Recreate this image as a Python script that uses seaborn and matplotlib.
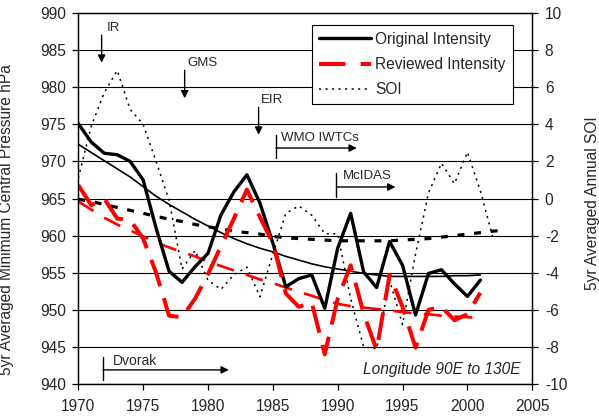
import numpy as np
import pandas as pd
import matplotlib
matplotlib.use('Agg')
import matplotlib.pyplot as plt
import seaborn as sns
from matplotlib.lines import Line2D

# Data
years = list(range(1970, 2002))
original = [975.1, 972.6, 971.1, 970.9, 970.0, 967.5, 961.0, 955.2, 953.7, 955.8,
            957.6, 962.8, 965.9, 968.2, 964.4, 959.0, 953.1, 954.2, 954.7, 950.2,
            958.3, 963.0, 955.1, 953.0, 959.2, 956.0, 949.3, 954.9, 955.4, 953.5,
            951.8, 954.0]
original_trend = [972.3, 971.2, 970.1, 969.0, 967.9, 966.6, 965.3, 964.2, 963.2, 962.2,
                  961.3, 960.4, 959.6, 958.9, 958.3, 957.8, 957.2, 956.7, 956.2, 955.8,
                  955.5, 955.2, 954.9, 954.7, 954.5, 954.5, 954.5, 954.5, 954.5, 954.6,
                  954.6, 954.7]
reviewed = [966.8, 964.1, 965.0, 962.3, 962.1, 959.6, 955.0, 949.2, 949.0, 951.5,
            954.8, 958.6, 962.3, 966.2, 962.5, 959.0, 952.2, 950.4, 951.0, 944.0,
            951.5, 956.0, 949.5, 944.6, 954.7, 950.4, 944.9, 950.0, 950.4, 948.6,
            949.4, 952.3]
reviewed_trend = [964.6, 963.5, 962.4, 961.5, 960.7, 959.9, 959.1, 958.4, 957.8, 957.2,
                  956.5, 955.9, 955.3, 954.7, 954.1, 953.6, 953.0, 952.4, 951.9, 951.3,
                  950.8, 950.5, 950.3, 950.1, 949.9, 949.7, 949.5, 949.4, 949.2, 949.1,
                  949.0, 948.9]

soi_years = list(range(1970, 2003))
soi = [1.1, 3.9, 5.7, 6.9, 4.8, 4.0, 2.0, -0.1, -3.8, -2.8,
       -4.4, -4.9, -4.1, -3.7, -5.3, -3.0, -0.8, -0.4, -0.9, -1.9,
       -1.9, -5.4, -8.0, -8.1, -4.4, -6.8, -3.0, 0.3, 1.9, 0.8,
       2.5, 0.4, -2.2]
soi_trend_years = list(range(1970, 2004))
soi_trend = [-0.04, -0.16, -0.32, -0.48, -0.64, -0.80, -0.96, -1.12, -1.24, -1.40,
             -1.52, -1.64, -1.76, -1.84, -1.92, -2.04, -2.12, -2.16, -2.20, -2.24,
             -2.28, -2.28, -2.28, -2.28, -2.28, -2.24, -2.20, -2.16, -2.08, -2.00,
             -1.92, -1.84, -1.76, -1.68]

df = pd.DataFrame({'Year': years, 'Original': original, 'OrigTrend': original_trend,
                   'Reviewed': reviewed, 'RevTrend': reviewed_trend})
soi_df = pd.DataFrame({'Year': soi_years, 'SOI': soi})
soi_tr_df = pd.DataFrame({'Year': soi_trend_years, 'SOITrend': soi_trend})

sns.set_theme(style='white')
plt.rcParams['font.family'] = ['Liberation Sans', 'DejaVu Sans']
plt.rcParams['axes.unicode_minus'] = False
plt.rcParams['lines.scale_dashes'] = False
FS = 11.2

fig = plt.figure(figsize=(5.99, 4.19), dpi=100)
ax = fig.add_axes([0.1307, 0.0835, 0.7579, 0.8855])
ax2 = ax.twinx()

# gridlines
for v in range(940, 995, 5):
    ax.axhline(v, color='black', lw=0.8, zorder=0)

# SOI (right axis)
sns.lineplot(data=soi_df, x='Year', y='SOI', ax=ax2, color='black', lw=1.1,
             dashes=False, linestyle=(0, (1.5, 3.2)))
sns.lineplot(data=soi_tr_df, x='Year', y='SOITrend', ax=ax2, color='black', lw=2.3,
             dashes=False, linestyle=(0, (5, 7)))

# pressure series (drawn on top axes, in pressure coordinates)
sns.lineplot(data=df, x='Year', y='OrigTrend', ax=ax2, color='black', lw=1.2,
             transform=ax.transData)
sns.lineplot(data=df, x='Year', y='RevTrend', ax=ax2, color='red', lw=1.9,
             linestyle=(0, (13, 9)), transform=ax.transData)
sns.lineplot(data=df, x='Year', y='Original', ax=ax2, color='black', lw=2.4,
             transform=ax.transData)
sns.lineplot(data=df, x='Year', y='Reviewed', ax=ax2, color='red', lw=2.9,
             linestyle=(0, (20, 9)), transform=ax.transData)

ax.set_xlim(1970, 2005)
ax.set_ylim(940, 990)
ax2.set_ylim(-10, 10)
ax.set_xticks(range(1970, 2006, 5))
ax.set_yticks(range(940, 991, 5))
ax2.set_yticks(range(-10, 11, 2))

for a in (ax, ax2):
    for s in a.spines.values():
        s.set_color('black')
        s.set_linewidth(0.9)
    a.tick_params(direction='out', length=4, width=0.9, color='black',
                  labelsize=FS, pad=5)
ax.tick_params(left=True, bottom=True)
ax.tick_params(axis='x', pad=7)
ax2.tick_params(right=True)

ax.set_xlabel('')
ax2.set_xlabel('')
ax.set_ylabel('5yr Averaged Minimum Central Pressure hPa', fontsize=FS)
ax2.set_ylabel('5yr Averaged Annual SOI', fontsize=FS)
ax.yaxis.set_label_coords(-0.142, 0.442)
ax2.yaxis.set_label_coords(1.117, 0.487)

# annotations
arrow = dict(arrowstyle='-|>', color='black', lw=1, mutation_scale=11,
             shrinkA=0, shrinkB=0)
AFS = 9.5
for x, y0, y1, lab, tx, ty in [(1971.8, 987.0, 983.3, 'IR', 1972.2, 988.0),
                               (1978.2, 982.3, 978.5, 'GMS', 1978.4, 983.3),
                               (1983.9, 977.3, 973.6, 'EIR', 1984.1, 978.3)]:
    ax.annotate('', xy=(x, y1), xytext=(x, y0), arrowprops=arrow)
    ax.text(tx, ty, lab, fontsize=AFS, ha='left', va='center')

for x0, x1, yb0, yb1, ya, lab, tx, ty, fs in [
        (1985.24, 1991.47, 970.5, 973.6, 971.8, 'WMO IWTCs', 1985.6, 973.1, AFS),
        (1989.9, 1994.45, 965.2, 968.4, 966.55, 'McIDAS', 1990.4, 968.0, AFS),
        (1971.9, 1981.6, 940.5, 943.6, 941.9, 'Dvorak', 1972.65, 943.1, 10)]:
    ax.plot([x0, x0], [yb0, yb1], color='black', lw=1)
    ax.annotate('', xy=(x1, ya), xytext=(x0, ya), arrowprops=arrow)
    ax.text(tx, ty, lab, fontsize=fs, ha='left', va='center')

ax.text(2004.1, 941.9, 'Longitude 90E to 130E', fontsize=FS, style='italic',
        ha='right', va='center')

handles = [Line2D([0], [0], color='black', lw=2.4),
           Line2D([0], [0], color='red', lw=2.9, linestyle=(0, (19, 11))),
           Line2D([0], [0], color='black', lw=1.1, linestyle=(0, (1.5, 3.2)))]
leg = ax2.legend(handles, ['Original Intensity', 'Reviewed Intensity', 'SOI'],
                 loc='upper right', bbox_to_anchor=(0.957, 0.968), fontsize=FS,
                 frameon=True, fancybox=False, framealpha=1, edgecolor='black',
                 handlelength=3.3, handletextpad=0.3, labelspacing=0.65,
                 borderpad=0.45, borderaxespad=0)
leg.get_frame().set_linewidth(0.8)

fig.savefig('out.png', dpi=100)
